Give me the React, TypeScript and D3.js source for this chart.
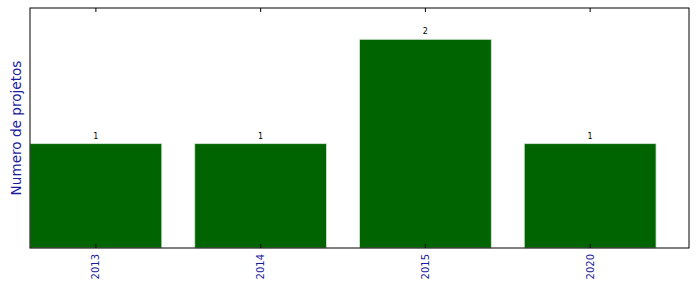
import React from "react";
import * as d3 from "d3";

const categories = ["2013", "2014", "2015", "2020"];
const values = [1, 1, 2, 1];

export default function App() {
  const W = 699, H = 292;
  const left = 30, right = 689, top = 8, bottom = 248;
  const x = d3.scaleLinear().domain([-0.4, 3.6]).range([left, right]);
  const y = d3.scaleLinear().domain([0, 2.3]).range([bottom, top]);
  const bw = 0.8;
  return (
    <svg width={W} height={H} style={{ position: "absolute", left: 0, top: 0 }}>
      <rect x={0} y={0} width={W} height={H} fill="white" />
      {values.map((v, i) => (
        <g key={i}>
          <rect
            x={x(i - bw / 2)}
            y={y(v)}
            width={x(i + bw / 2) - x(i - bw / 2)}
            height={y(0) - y(v)}
            fill="#006400"
            stroke="#d8e8d8"
            strokeWidth={0.8}
          />
          <text x={x(i)} y={y(v) - 5} textAnchor="middle" fontSize={8} fontFamily="DejaVu Sans" fill="#000">
            {v}
          </text>
        </g>
      ))}
      <rect x={left} y={top} width={right - left} height={bottom - top} fill="none" stroke="black" strokeWidth={1} />
      {categories.map((c, i) => (
        <g key={c}>
          <line x1={x(i)} x2={x(i)} y1={bottom} y2={bottom - 4} stroke="black" />
          <line x1={x(i)} x2={x(i)} y1={top} y2={top + 4} stroke="black" />
          <text
            transform={`translate(${x(i) + 3.5},${bottom + 6}) rotate(-90)`}
            textAnchor="end"
            fontSize={10}
            fontFamily="DejaVu Sans"
            fill="#1a1a9c"
          >
            {c}
          </text>
        </g>
      ))}
      <text
        transform={`translate(${21},${(top + bottom) / 2}) rotate(-90)`}
        textAnchor="middle"
        fontSize={13.6}
        fontFamily="DejaVu Sans"
        fill="#1a1a9c"
      >
        Numero de projetos
      </text>
    </svg>
  );
}
